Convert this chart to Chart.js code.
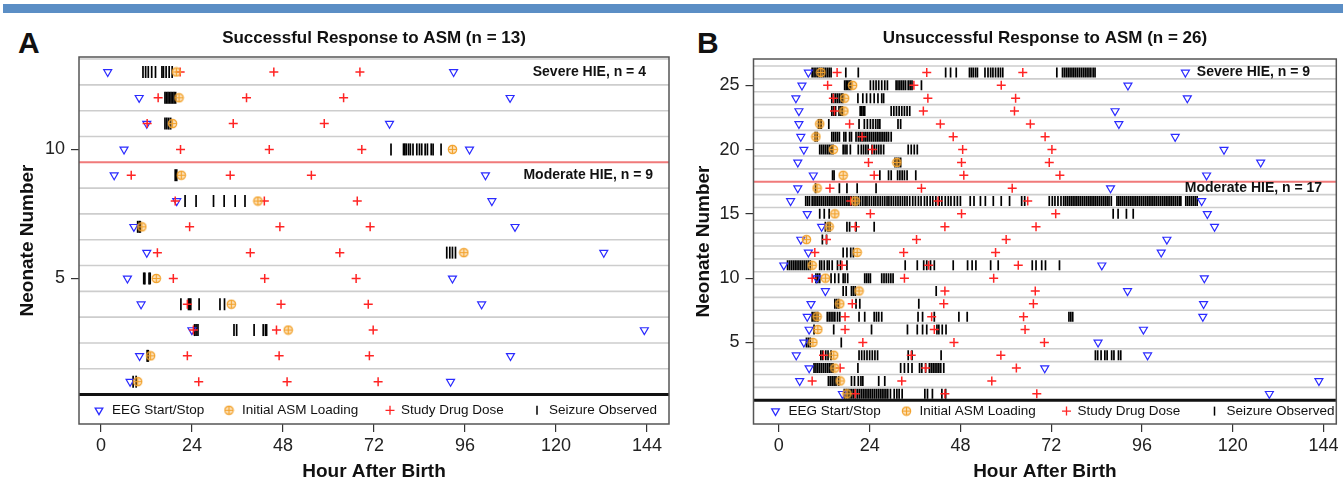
<!DOCTYPE html>
<html>
<head>
<meta charset="utf-8">
<script src="https://cdn.jsdelivr.net/npm/chart.js@4.4.1/dist/chart.umd.min.js"></script>
<style>
  body { margin: 0; background: #fff; width: 1343px; height: 485px; position: relative; overflow: hidden; }
  #bar { position: absolute; left: 3px; right: 0; top: 4px; height: 9px; background: #5b8ec5; }
  .tag { position: absolute; top: 27px; font: bold 30px/32px 'Liberation Sans', Arial, sans-serif; color: #111; }
  canvas { position: absolute; top: 0; }
</style>
</head>
<body>
<div id="bar"></div>
<div class="tag" style="left:18px">A</div>
<div class="tag" style="left:697px">B</div>
<canvas id="chartA" width="680" height="485" style="left:0"></canvas>
<canvas id="chartB" width="663" height="485" style="left:680px"></canvas>
<script>
const FONT = "'Liberation Sans', Arial, sans-serif";
Chart.defaults.font.family = FONT;
Chart.defaults.color = '#222';

const hourTicks = [0, 24, 48, 72, 96, 120, 144];
const rowTicksA = [5, 10];
const rowTicksB = [5, 10, 15, 20, 25];
const legendLabels = ['EEG Start/Stop', 'Initial ASM Loading', 'Study Drug Dose', 'Seizure Observed'];

// Panel A (successful response), one entry per neonate, neonate 1 first. Hours after birth.
const eegA = [[7.7, 92.2], [10.2, 108.0], [24.0, 143.3], [10.6, 100.4], [7.0, 92.7], [12.1, 132.6], [8.7, 109.2],
  [20.0, 103.1], [3.5, 101.4], [6.1, 97.2], [12.1, 76.1], [10.1, 107.9], [1.8, 93.0]];
const asmA = [9.7, 13.1, 49.4, 34.4, 14.6, 95.7, 10.8, 41.4, 21.2, 92.7, 18.9, 20.6, 19.9];
const drugA = [[25.8, 49.1, 73.1], [22.8, 47.0, 70.8], [24.4, 46.3, 71.8], [22.8, 47.5, 70.5], [19.1, 43.2, 67.3],
  [14.9, 39.4, 63.0], [23.4, 47.2, 71.0], [19.6, 43.1, 67.6], [8.0, 34.1, 55.5], [21.0, 44.4, 68.8],
  [12.2, 34.9, 58.9], [15.1, 38.4, 64.0], [20.9, 45.6, 68.3]];
const seizA = [
  [8.5, 9.3],
  [12.2, 12.5],
  [24.7, 25.1, 25.6, 35.1, 35.8, 40.4, 42.8, 43.4, 43.7],
  [21.1, 23.1, 23.4, 23.7, 25.9, 31.4, 32.6],
  [11.3, 11.6, 12.7, 13.0],
  [91.2, 92.0, 92.7, 93.5],
  [9.7, 10.1, 10.4],
  [22.2, 25.1, 29.7, 32.5, 35.4, 38.0],
  [19.6, 20.0],
  [76.5, 79.8, 80.1, 80.5, 81.1, 81.6, 82.3, 83.3, 84.0, 84.6, 85.5, 86.1, 87.1, 87.6, 89.7],
  [16.9, 17.4, 17.9, 18.4],
  [16.9, 17.3, 17.7, 18.1, 18.5, 18.9, 19.3, 19.7],
  [11.1, 11.8, 12.5, 13.4, 14.4, 16.1, 16.5, 17.2, 18.0, 18.8]
];

// Panel B (unsuccessful response)
const eegB = [[16.8, 129.7], [5.5, 142.8], [8.0, 70.3], [4.6, 97.5], [6.6, 84.4], [8.0, 96.4], [7.5, 112.1],
  [8.5, 112.3], [12.3, 92.2], [10.0, 112.5], [1.3, 85.4], [7.8, 101.1], [5.8, 102.6], [11.3, 115.2],
  [7.5, 113.3], [3.1, 111.8], [5.0, 87.7], [9.1, 113.1], [5.0, 127.4], [6.6, 117.7], [5.8, 104.8],
  [5.3, 89.9], [5.3, 88.9], [4.5, 108.0], [6.1, 92.3], [7.8, 107.5]];
const asmB = [18.0, 16.2, 14.8, 14.5, 9.0, 10.3, 10.1, 16.1, 21.2, 12.3, 8.8, 20.7, 7.3, 13.3, 14.8, 20.2,
  10.1, 17.0, 31.2, 14.4, 9.8, 10.8, 17.2, 17.4, 19.5, 11.1];
const drugB = [[20.2, 43.9, 68.2], [8.8, 32.5, 56.3], [16.2, 38.8, 62.8], [11.8, 35.0, 58.7], [22.2, 46.3, 70.2],
  [17.5, 41.1, 65.1], [17.5, 40.4, 64.7], [19.4, 43.6, 67.3], [43.9, 67.8], [8.8, 33.2, 56.8],
  [16.7, 39.6, 63.3], [9.5, 33.0, 57.3], [12.6, 36.4, 60.1], [20.2, 43.9, 68.0], [24.2, 48.3, 73.2],
  [19.0, 42.1, 65.8], [13.5, 37.7, 61.7], [25.2, 48.9, 74.3], [23.7, 48.3, 71.5], [24.7, 48.6, 72.2],
  [22.0, 46.1, 70.4], [18.7, 42.7, 66.5], [14.7, 38.2, 62.3], [14.4, 39.4, 62.6], [12.9, 35.7, 58.8],
  [15.4, 39.1, 64.5]];
const seizB = [
  [17.3, 17.8, 18.3, 18.8, 19.3, 19.8, 20.3, 20.8, 21.3, 21.8, 22.3, 22.8, 23.3, 23.8, 24.3, 24.8, 25.3, 25.8,
   26.3, 26.8, 27.3, 27.8, 28.3, 28.8, 29.5, 30.5, 31.2, 31.8, 32.6, 38.6, 39.3, 40.6, 43.1, 44.1],
  [13.1, 13.6, 14.1, 14.6, 15.1, 15.8, 19.2, 20.0, 21.0, 21.7, 22.2, 26.4, 28.0],
  [9.3, 9.8, 10.3, 10.8, 11.3, 11.8, 12.3, 12.8, 13.3, 13.8, 14.3, 20.9, 32.2, 33.2, 34.2, 35.2, 37.2, 37.8,
   38.8, 39.8, 40.3, 40.8, 41.3, 41.8, 42.3, 42.8, 43.6],
  [11.1, 11.6, 12.4, 13.0, 13.8, 21.2, 21.9, 22.6, 23.3, 24.0, 24.7, 25.4, 26.1, 34.2, 35.2, 42.9, 83.7, 84.3,
   85.2, 86.2, 86.8, 88.0, 88.6, 89.8, 90.4],
  [7.3, 7.8, 8.3, 16.5],
  [9.3, 14.5, 24.5, 34.0, 36.6, 38.0, 39.1, 41.8, 42.3, 43.2, 44.2],
  [8.8, 9.3, 9.8, 10.3, 12.8, 13.3, 13.8, 14.3, 14.8, 15.5, 16.1, 21.2, 22.7, 25.2, 25.8, 26.4, 27.2, 36.8,
   38.0, 41.1, 47.6, 49.8, 76.7, 77.2, 77.7],
  [14.8, 15.3, 15.8, 20.4, 21.4, 37.0],
  [17.0, 17.8, 19.2, 19.7, 20.2, 41.6],
  [9.8, 10.3, 10.8, 13.8, 14.8, 15.8, 17.0, 17.5, 18.2, 22.7, 23.2, 23.7, 24.2, 27.2, 27.8, 28.4, 29.0, 29.6, 30.2],
  [2.3, 2.8, 3.3, 3.8, 4.3, 4.8, 5.3, 5.8, 6.3, 6.8, 7.3, 7.8, 8.3, 10.8, 11.3, 12.0, 12.8, 13.3, 14.1, 15.5,
   16.3, 18.0, 33.4, 36.6, 38.3, 39.1, 40.1, 41.1, 46.1, 49.9, 51.1, 52.1, 56.0, 58.0, 67.0, 68.0, 69.5, 70.5, 74.2],
  [17.0, 18.0, 19.0, 19.7],
  [11.5, 12.6],
  [12.3, 13.0, 13.5, 18.0, 18.7, 20.4, 25.2],
  [10.8, 12.0, 13.3, 88.4, 89.7, 91.9, 93.7],
  [7.1, 7.6, 8.1, 8.8, 9.3, 9.8, 10.3, 10.8, 11.3, 11.8, 12.3, 12.8, 13.3, 13.8, 14.3, 14.8, 15.3, 15.8, 16.3,
   16.8, 17.3, 17.8, 18.3, 18.8, 19.2, 19.8, 20.4, 21.0, 21.6, 22.2, 22.8, 23.3, 23.9, 24.5, 25.1, 25.6, 26.2,
   26.8, 27.4, 28.0, 28.6, 29.1, 29.7, 30.3, 30.9, 31.5, 32.1, 32.7, 33.3, 33.9, 34.6, 35.4, 36.1, 36.9, 37.6,
   38.5, 39.2, 40.0, 40.7, 41.5, 42.4, 43.1, 44.0, 44.8, 45.5, 46.4, 47.2, 48.0, 50.6, 51.6, 53.3, 54.6, 56.7,
   58.8, 61.0, 64.2, 65.0, 71.5, 72.3, 73.0, 73.8, 74.6, 75.3, 75.8, 76.3, 76.8, 77.3, 77.8, 78.3, 78.8, 79.3,
   79.8, 80.3, 80.8, 81.3, 81.8, 82.3, 82.8, 83.3, 83.8, 84.3, 84.8, 85.3, 85.8, 86.3, 86.8, 87.3, 87.9, 89.4,
   89.9, 90.4, 90.9, 91.4, 91.9, 92.4, 92.9, 93.4, 93.9, 94.4, 94.9, 95.4, 95.9, 96.4, 96.9, 97.4, 97.9, 98.4,
   98.9, 99.4, 99.9, 100.4, 100.9, 101.4, 101.9, 102.4, 102.9, 103.4, 103.9, 104.4, 104.9, 105.4, 105.9, 106.3,
   107.6, 108.1, 108.6, 109.1, 109.6, 110.1, 110.6],
  [9.7, 16.0, 18.0, 20.7, 25.7],
  [14.2, 14.6, 26.7, 29.0, 29.7, 31.4, 32.0, 32.6, 33.2, 33.9, 36.2],
  [30.7, 31.2, 31.7, 32.2],
  [10.8, 11.3, 11.8, 12.3, 12.8, 13.3, 13.8, 14.3, 17.0, 17.5, 18.0, 18.9, 21.0, 21.8, 22.4, 23.0, 23.6, 24.6,
   25.2, 25.8, 26.4, 27.0, 27.7, 34.2, 35.0, 35.8, 36.6],
  [9.6, 10.1, 14.0, 14.5, 15.0, 15.5, 16.0, 17.2, 17.7, 18.7, 19.2, 20.4, 21.0, 21.5, 22.0, 22.5, 23.0, 23.5,
   24.0, 24.5, 25.0, 25.5, 26.0, 26.5, 27.0, 27.5, 28.0, 28.5, 29.0, 29.7],
  [10.5, 10.9, 11.2, 13.2, 21.2, 22.6, 23.4, 24.2, 24.9, 25.6, 26.2, 26.7, 31.5, 32.2],
  [14.0, 14.5, 15.0, 15.9, 16.4, 16.8, 21.5, 21.9, 22.3, 22.7, 29.7, 30.4, 31.1, 31.8, 32.5, 33.2, 33.9, 34.6],
  [14.0, 14.5, 15.0, 15.5, 16.0, 16.5, 16.9, 20.9, 22.2, 23.2, 24.2, 25.2, 26.2, 27.2, 27.7],
  [17.4, 17.8, 18.2, 18.6, 19.0, 24.2, 25.0, 25.7, 26.4, 27.2, 28.0, 28.7, 31.0, 31.5, 32.0, 32.5, 33.0, 33.5,
   34.2, 34.7, 35.2, 37.7],
  [8.8, 9.3, 9.8, 10.3, 10.8, 11.3, 11.8, 12.3, 12.8, 13.3, 13.8, 17.7, 21.0, 44.1, 45.4, 46.9, 50.4, 50.9,
   51.4, 52.0, 52.5, 54.5, 55.3, 56.0, 56.6, 57.3, 58.0, 58.6, 59.2, 73.5, 75.0, 75.5, 76.0, 76.5, 77.0, 77.5,
   78.0, 78.5, 79.0, 79.5, 80.0, 80.5, 81.0, 81.5, 82.0, 82.5, 83.1, 83.6]
];

const BLUE = '#2b2bff', ORANGE = '#f2a22c', RED = '#ff2424';

// orange circle with a cross, R's pch 10
const asmMark = (() => {
  const c = document.createElement('canvas');
  c.width = 11; c.height = 11;
  const g = c.getContext('2d');
  g.strokeStyle = ORANGE; g.fillStyle = 'rgba(245,170,60,0.35)'; g.lineWidth = 1.2;
  g.beginPath(); g.arc(5.5, 5.5, 4.2, 0, Math.PI * 2); g.fill(); g.stroke();
  g.beginPath(); g.moveTo(5.5, 1.3); g.lineTo(5.5, 9.7); g.moveTo(1.3, 5.5); g.lineTo(9.7, 5.5); g.stroke();
  return c;
})();

function rowPoints(rows) {
  const out = [];
  rows.forEach((hours, i) => [].concat(hours).forEach(h => out.push({x: h, y: i + 1})));
  return out;
}

function drawLegendMark(ctx, kind, x, y) {
  ctx.save();
  ctx.lineWidth = 1.3;
  if (kind === 0) {
    ctx.strokeStyle = BLUE;
    ctx.beginPath(); ctx.moveTo(x - 3.8, y - 2.2); ctx.lineTo(x + 3.8, y - 2.2); ctx.lineTo(x, y + 4.4); ctx.closePath(); ctx.stroke();
  } else if (kind === 1) {
    ctx.drawImage(asmMark, x - 5.5, y - 5.5);
  } else if (kind === 2) {
    ctx.strokeStyle = RED;
    ctx.beginPath(); ctx.moveTo(x - 4.5, y); ctx.lineTo(x + 4.5, y); ctx.moveTo(x, y - 4.5); ctx.lineTo(x, y + 4.5); ctx.stroke();
  } else {
    ctx.strokeStyle = '#000'; ctx.lineWidth = 1.5;
    ctx.beginPath(); ctx.moveTo(x, y - 4.5); ctx.lineTo(x, y + 4.5); ctx.stroke();
  }
  ctx.restore();
}

function panelPlugin(cfg) {
  return {
    id: 'panel' + cfg.name,
    beforeDatasetsDraw(chart) {
      const {ctx, chartArea: a} = chart;
      const y = chart.scales.y;
      ctx.save();
      for (let k = 1; k <= cfg.rows; k++) {
        const v = k + 0.5;
        const py = y.getPixelForValue(v);
        if (py <= a.top + 1.5) continue;
        const split = v === cfg.split;
        ctx.strokeStyle = split ? '#f07a7a' : '#cdcdcd';
        ctx.lineWidth = split ? 2 : 1.6;
        ctx.beginPath(); ctx.moveTo(a.left, py); ctx.lineTo(a.right, py); ctx.stroke();
      }
      const base = y.getPixelForValue(0.5);
      ctx.strokeStyle = '#111'; ctx.lineWidth = 3;
      ctx.beginPath(); ctx.moveTo(a.left, base); ctx.lineTo(a.right, base); ctx.stroke();
      ctx.restore();
    },
    afterDatasetsDraw(chart) {
      const {ctx, chartArea: a} = chart;
      const x = chart.scales.x, y = chart.scales.y;
      ctx.save();
      ctx.font = 'bold 14px ' + FONT;
      ctx.fillStyle = '#111'; ctx.textAlign = 'center'; ctx.textBaseline = 'middle';
      cfg.notes.forEach(n => ctx.fillText(n.text, x.getPixelForValue(n.x), y.getPixelForValue(n.row)));
      const ly = (y.getPixelForValue(0.5) + a.bottom) / 2 + cfg.legendDy;
      ctx.font = '13.5px ' + FONT; ctx.textAlign = 'left';
      legendLabels.forEach((label, i) => {
        drawLegendMark(ctx, i, a.left + cfg.legendMark[i], ly);
        ctx.fillText(label, a.left + cfg.legendText[i], ly);
      });
      ctx.strokeStyle = '#555'; ctx.lineWidth = 1.5;
      ctx.strokeRect(a.left, a.top, a.right - a.left, a.bottom - a.top);
      ctx.restore();
    }
  };
}

function makePanel(id, cfg) {
  new Chart(document.getElementById(id), {
    type: 'scatter',
    data: {
      datasets: [
        {label: 'Initial ASM Loading', data: rowPoints(cfg.asm), pointStyle: asmMark, pointRadius: 5, pointHoverRadius: 5},
        {label: 'Study Drug Dose', data: rowPoints(cfg.drug), pointStyle: 'cross', pointRadius: 4.5, pointHoverRadius: 4.5,
         pointBorderColor: RED, pointBorderWidth: 1.5},
        {label: 'EEG Start/Stop', data: rowPoints(cfg.eeg), pointStyle: 'triangle', pointRotation: 180, pointRadius: 4.6,
         pointHoverRadius: 4.6, pointBorderColor: BLUE, pointBackgroundColor: 'rgba(0,0,0,0)', pointBorderWidth: 1.2},
        {label: 'Seizure Observed', data: rowPoints(cfg.seiz), pointStyle: 'line', pointRotation: 90, pointRadius: cfg.seizR,
         pointHoverRadius: cfg.seizR, pointBorderColor: '#000', pointBorderWidth: 1.7}
      ]
    },
    options: {
      responsive: false,
      devicePixelRatio: 1,
      animation: false,
      events: [],
      layout: {padding: {left: 0, right: cfg.padRight, top: 0, bottom: 0}},
      plugins: {
        legend: {display: false},
        tooltip: {enabled: false},
        title: {
          display: true, text: cfg.title, fullSize: false, color: '#111',
          font: {size: 17, weight: 'bold'}, padding: {top: 28, bottom: cfg.titleBottom}
        }
      },
      scales: {
        x: {
          type: 'linear', min: cfg.xMin, max: cfg.xMax,
          afterBuildTicks: s => { s.ticks = hourTicks.map(v => ({value: v})); },
          afterFit: s => { s.height = 61; },
          grid: {drawOnChartArea: false, tickLength: 8, color: '#333', lineWidth: 1.2},
          border: {display: false},
          ticks: {font: {size: 18}, padding: 3, color: '#222', maxRotation: 0},
          title: {display: true, text: 'Hour After Birth', color: '#111', font: {size: 19, weight: 'bold'}, padding: {top: 2, bottom: 2}}
        },
        y: {
          type: 'linear', min: cfg.yMin, max: cfg.yMax,
          afterBuildTicks: s => { s.ticks = cfg.rowTicks.map(v => ({value: v})); },
          afterFit: s => { s.width = cfg.yWidth; },
          grid: {drawOnChartArea: false, tickLength: 8, color: '#333', lineWidth: 1.2},
          border: {display: false},
          ticks: {font: {size: 18}, padding: 6, color: '#222'},
          title: {display: true, text: 'Neonate Number', color: '#111', font: {size: 19, weight: 'bold'}, padding: {top: cfg.yTitlePad, bottom: 0}}
        }
      }
    },
    plugins: [panelPlugin(cfg)]
  });
}

makePanel('chartA', {
  name: 'A', title: 'Successful Response to ASM (n = 13)',
  eeg: eegA, asm: asmA, drug: drugA, seiz: seizA, rows: 13, split: 9.5, rowTicks: rowTicksA,
  xMin: -5.77, xMax: 149.8, yMin: -0.64, yMax: 13.58, yWidth: 79, padRight: 11, titleBottom: 8.6, yTitlePad: 16, seizR: 6,
  notes: [{text: 'Severe HIE, n = 4', x: 128.8, row: 13}, {text: 'Moderate HIE, n = 9', x: 128.5, row: 9}],
  legendMark: [20, 150, 311, 458], legendText: [33, 163, 322, 470], legendDy: 1
});

makePanel('chartB', {
  name: 'B', title: 'Unsuccessful Response to ASM (n = 26)',
  eeg: eegB, asm: asmB, drug: drugB, seiz: seizB, rows: 26, split: 17.5, rowTicks: rowTicksB,
  xMin: -6.71, xMax: 147.4, yMin: -1.35, yMax: 27.05, yWidth: 73.5, padRight: 4, titleBottom: 10.6, yTitlePad: 12, seizR: 5,
  notes: [{text: 'Severe HIE, n = 9', x: 125.5, row: 26}, {text: 'Moderate HIE, n = 17', x: 125.5, row: 17}],
  legendMark: [22, 153, 313, 461], legendText: [35, 166, 324, 473], legendDy: -1
});
</script>
</body>
</html>
